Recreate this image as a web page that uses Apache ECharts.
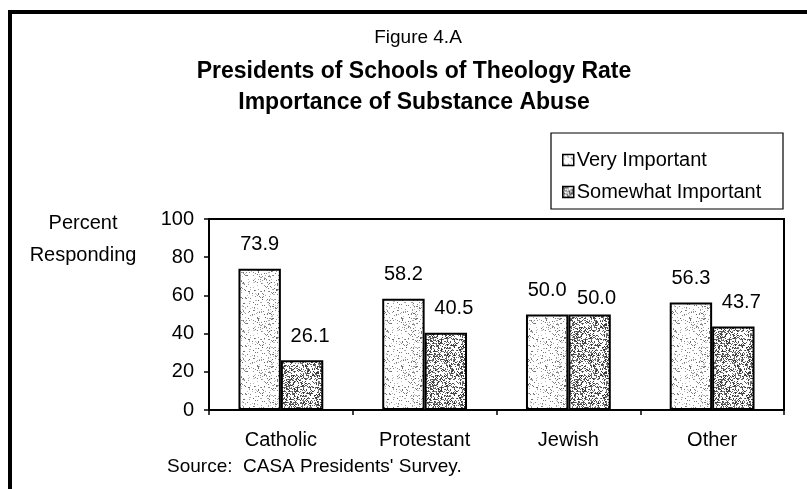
<!DOCTYPE html>
<html>
<head>
<meta charset="utf-8">
<script src="https://cdn.jsdelivr.net/npm/echarts@6/dist/echarts.min.js"></script>
<style>
html,body{margin:0;padding:0;background:#fff;}
#chart{width:807px;height:489px;}
</style>
</head>
<body>
<div id="chart"></div>
<script>
const categories = ['Catholic', 'Protestant', 'Jewish', 'Other'];
const veryImportant = [73.9, 58.2, 50.0, 56.3];
const somewhatImportant = [26.1, 40.5, 50.0, 43.7];
const seriesNames = ['Very Important', 'Somewhat Important'];
const yTicks = [0, 20, 40, 60, 80, 100];

const FONT = '"Liberation Sans", Arial, sans-serif';

// speckled texture (deterministic hash, purely decorative)
function makeSpeckle(density, dark) {
  const c = document.createElement('canvas');
  c.width = 48; c.height = 48;
  const ctx = c.getContext('2d');
  ctx.fillStyle = '#ffffff';
  ctx.fillRect(0, 0, 48, 48);
  for (let y = 0; y < 48; y++) {
    for (let x = 0; x < 48; x++) {
      let h = (x * 374761393 + y * 668265263) >>> 0;
      h = ((h ^ (h >>> 13)) * 1274126177) >>> 0;
      h = (h ^ (h >>> 16)) >>> 0;
      const v = (h % 1000) / 1000;
      if (v < density) {
        const g = dark ? (40 + (h % 90)) : (90 + (h % 110));
        ctx.fillStyle = 'rgb(' + g + ',' + g + ',' + g + ')';
        ctx.fillRect(x, y, 1, 1);
      }
    }
  }
  return c;
}
const lightPattern = { image: makeSpeckle(0.16, false), repeat: 'repeat' };
const darkPattern = { image: makeSpeckle(0.42, true), repeat: 'repeat' };

const chart = echarts.init(document.getElementById('chart'), null, { renderer: 'canvas' });

const labelBase = {
  show: true,
  position: 'top',
  distance: 14,
  color: '#000',
  fontFamily: FONT,
  fontSize: 20,
  formatter: p => p.value.toFixed(1)
};

const somewhatData = somewhatImportant.map((v, i) => {
  const item = { value: v };
  if (v === veryImportant[i]) item.label = { offset: [7, 8] };
  return item;
});

const option = {
  animation: false,
  backgroundColor: '#fff',
  textStyle: { fontFamily: FONT, color: '#000' },
  grid: {
    left: 209, right: 23, top: 219, bottom: 79,
    show: true, borderColor: '#000', borderWidth: 2, backgroundColor: 'transparent'
  },
  legend: {
    data: seriesNames,
    orient: 'vertical',
    left: 557, top: 145,
    itemWidth: 11, itemHeight: 11,
    itemGap: 12,
    icon: 'rect',
    textStyle: { fontFamily: FONT, fontSize: 20, color: '#000', padding: [0, 0, 0, -2] },
    itemStyle: { borderColor: '#000', borderWidth: 1.5 },
    selectedMode: false
  },
  xAxis: {
    type: 'category',
    data: categories,
    axisLine: { lineStyle: { color: '#000', width: 2 } },
    axisTick: { show: true, length: 5, lineStyle: { color: '#000', width: 1.5 } },
    axisLabel: { color: '#000', fontFamily: FONT, fontSize: 20, margin: 20 }
  },
  yAxis: {
    type: 'value',
    min: 0, max: 100, interval: 20,
    axisLine: { show: true, lineStyle: { color: '#000', width: 2 } },
    axisTick: { show: true, length: 5, lineStyle: { color: '#000', width: 1.5 } },
    splitLine: { show: false },
    axisLabel: {
      color: '#000', fontFamily: FONT, fontSize: 20, margin: 15,
      formatter: v => yTicks.includes(v) ? String(v) : ''
    }
  },
  series: [
    {
      name: seriesNames[0],
      type: 'bar',
      data: veryImportant,
      barGap: '0%',
      barCategoryGap: '41%',
      itemStyle: { color: lightPattern, borderColor: '#000', borderWidth: 2 },
      label: labelBase
    },
    {
      name: seriesNames[1],
      type: 'bar',
      data: somewhatData,
      barGap: '0%',
      barCategoryGap: '41%',
      itemStyle: { color: darkPattern, borderColor: '#000', borderWidth: 2 },
      label: Object.assign({}, labelBase, { offset: [8, 0] })
    }
  ],
  graphic: [
    { type: 'polyline', shape: { points: [[10, 489], [10, 12], [807, 12]] }, style: { stroke: '#000', lineWidth: 4, fill: null }, silent: true },
    { type: 'rect', shape: { x: 551, y: 133, width: 232, height: 76 }, style: { stroke: '#000', lineWidth: 1.2, fill: null }, silent: true, z: -1 },
    { type: 'text', x: 418, y: 38, style: { text: 'Figure 4.A', font: '19px ' + FONT, fill: '#000', textAlign: 'center', textVerticalAlign: 'middle' } },
    { type: 'text', x: 414, y: 72, style: { text: 'Presidents of Schools of Theology Rate', font: 'bold 23px ' + FONT, fill: '#000', textAlign: 'center', textVerticalAlign: 'middle' } },
    { type: 'text', x: 414, y: 103, style: { text: 'Importance of Substance Abuse', font: 'bold 23px ' + FONT, fill: '#000', textAlign: 'center', textVerticalAlign: 'middle' } },
    { type: 'text', x: 83, y: 223, style: { text: 'Percent', font: '20px ' + FONT, fill: '#000', textAlign: 'center', textVerticalAlign: 'middle' } },
    { type: 'text', x: 83, y: 255, style: { text: 'Responding', font: '20px ' + FONT, fill: '#000', textAlign: 'center', textVerticalAlign: 'middle' } },
    { type: 'text', x: 167, y: 467, style: { text: "Source:  CASA Presidents' Survey.", font: '19px ' + FONT, fill: '#000', textAlign: 'left', textVerticalAlign: 'middle' } }
  ]
};

chart.setOption(option);
</script>
</body>
</html>
